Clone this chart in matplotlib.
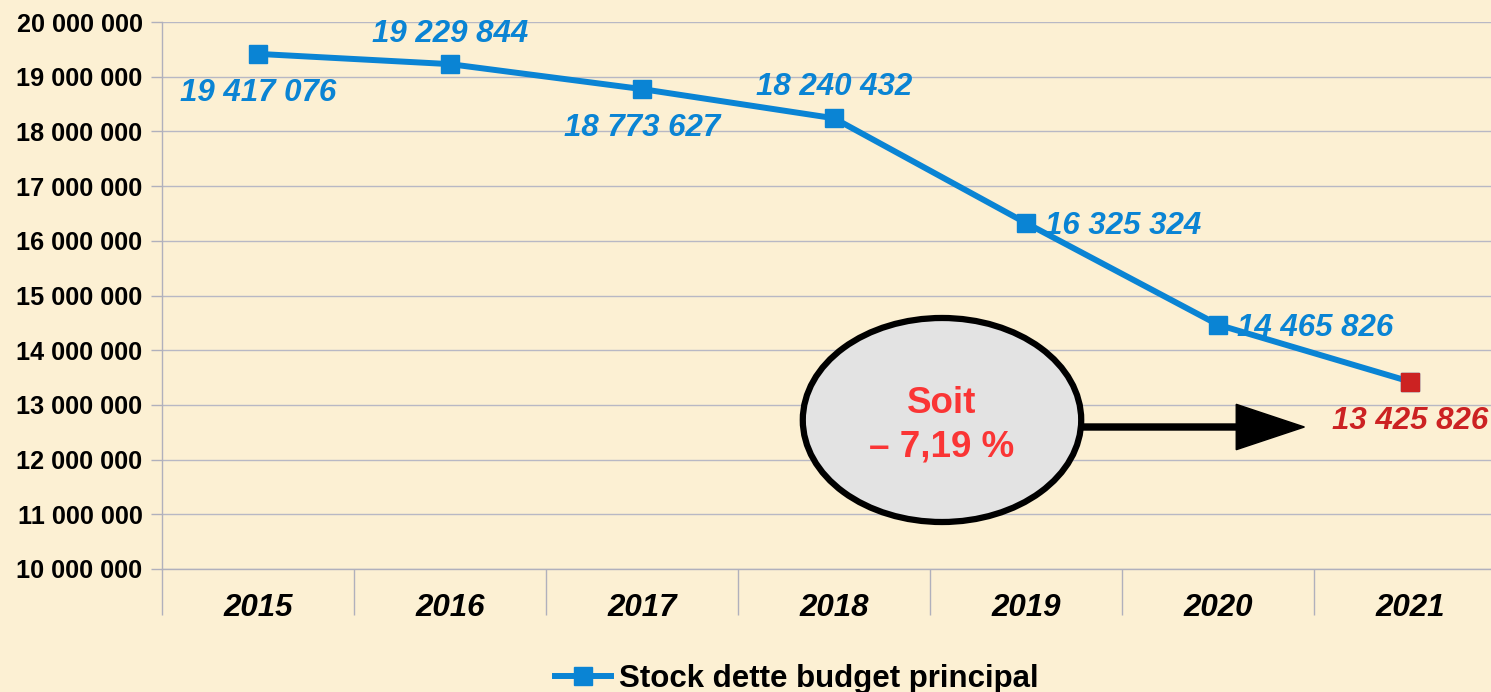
import matplotlib
matplotlib.use('Agg')
import matplotlib.pyplot as plt
from matplotlib.patches import Ellipse, FancyArrow
from matplotlib.ticker import FixedLocator, FuncFormatter

# stock de la dette, budget principal
years = ['2015', '2016', '2017', '2018', '2019', '2020', '2021']
stock = [19417076, 19229844, 18773627, 18240432, 16325324, 14465826, 13425826]
y_ticks = list(range(10000000, 20000001, 1000000))

# where each value label sits relative to its point (pixels)
label_offsets = [(0, -39), (0, 30), (0, -39), (0, 31), (19, -3), (19, -3), (0, -39)]
label_align = ['center', 'center', 'center', 'center', 'left', 'left', 'center']

BLUE = '#0a84d4'
RED = '#cc2222'
BG = '#fcf0d3'

plt.rcParams['font.family'] = ['Liberation Sans', 'DejaVu Sans']

fig = plt.figure(figsize=(14.91, 6.92), dpi=100, facecolor=BG)
ax = fig.add_axes([162 / 1491, 1 - 569 / 692, (1506 - 162) / 1491, (569 - 22) / 692])
ax.set_facecolor(BG)

x = list(range(len(years)))
ax.plot(x, stock, color=BLUE, lw=4.3, marker='s', markersize=13,
        markerfacecolor=BLUE, markeredgecolor=BLUE, label='Stock dette budget principal',
        zorder=3)
ax.plot(x[-1], stock[-1], ls='none', marker='s', markersize=13,
        markerfacecolor=RED, markeredgecolor=RED, zorder=4)

def fmt_num(v):
    return f'{v:,}'.replace(',', ' ')

for i, v in enumerate(stock):
    color = RED if i == len(stock) - 1 else BLUE
    ax.annotate(fmt_num(v), (i, v), xytext=label_offsets[i], textcoords='offset pixels',
                ha=label_align[i], va='center', fontsize=22.5, fontweight='bold',
                fontstyle='italic', color=color, zorder=5)

ax.set_xlim(-0.5, len(years) - 0.5)
ax.set_ylim(10000000, 20000000)

ax.yaxis.set_major_locator(FixedLocator(y_ticks))
ax.yaxis.set_major_formatter(FuncFormatter(lambda v, p: fmt_num(int(v))))
ax.tick_params(axis='y', length=8, width=1, color='#b0b0bc', pad=6, labelsize=18.2)
for t in ax.get_yticklabels():
    t.set_fontweight('bold')

ax.set_xticks(x)
ax.set_xticklabels(years, fontsize=22.5, fontweight='bold', fontstyle='italic')
ax.set_xticks([i - 0.5 for i in range(len(years) + 1)], minor=True)
ax.tick_params(axis='x', which='major', length=0, pad=17)
ax.tick_params(axis='x', which='minor', length=33, width=1, color='#b0b0bc')

ax.grid(axis='y', color='#b8b8c4', lw=1)
ax.set_axisbelow(True)
for side in ['top', 'right']:
    ax.spines[side].set_visible(False)
for side in ['left', 'bottom']:
    ax.spines[side].set_color('#b0b0bc')
    ax.spines[side].set_linewidth(1)

# bulle avec la variation et la flèche vers la dernière valeur
ell = Ellipse((3.5625, 12724000), 1.45, 3730000, facecolor='#e3e3e3',
              edgecolor='black', lw=4.5, zorder=6, clip_on=False)
ax.add_patch(ell)
ax.text(3.5625, 13020000, 'Soit', ha='center', va='center', fontsize=26.5,
        fontweight='bold', color='#fa3535', zorder=7)
ax.text(3.5625, 12230000, '\u2013 7,19 %', ha='center', va='center', fontsize=26.5,
        fontweight='bold', color='#fa3535', zorder=7)
arrow = FancyArrow(4.29, 12596000, 1.16, 0, width=110000, head_width=830000,
                   head_length=0.355, length_includes_head=True, color='black',
                   zorder=6)
ax.add_patch(arrow)

leg = fig.legend(loc='center', bbox_to_anchor=(797 / 1491, 1 - 679 / 692),
                 frameon=False, handlelength=1.8, handletextpad=0.25,
                 prop={'size': 22.5, 'weight': 'bold'})

fig.savefig('out.png', dpi=100, facecolor=BG)
